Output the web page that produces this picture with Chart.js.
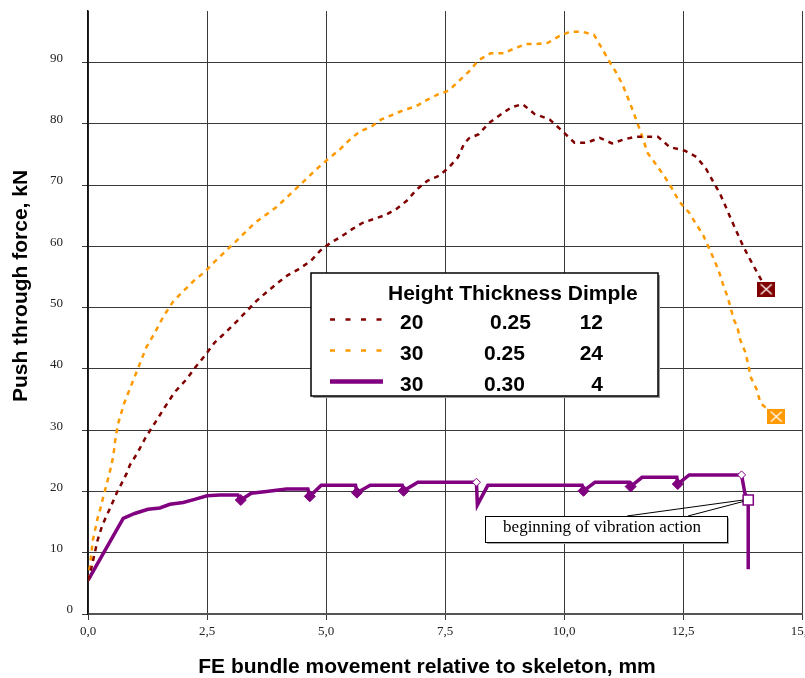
<!DOCTYPE html>
<html>
<head>
<meta charset="utf-8">
<title>Push through force</title>
<script src="https://cdn.jsdelivr.net/npm/chart.js@4.4.1/dist/chart.umd.min.js"></script>
<style>
  html, body { margin: 0; padding: 0; background: #fff; }
  #wrap { width: 805px; height: 678px; position: relative; }
</style>
</head>
<body>
<div id="wrap"><canvas id="chart"></canvas></div>
<script>
// Height 20, thickness 0.25, dimple 12 (last point = end marker)
const redX = [0, 0.07, 0.14, 0.2, 0.3, 0.46, 0.6, 0.68, 0.81, 0.88, 1.04, 1.21, 1.44, 1.61, 1.82,
  2.07, 2.26, 2.47, 2.66, 2.91, 3.12, 3.33, 3.54, 3.75, 3.98, 4.2, 4.41, 4.68, 4.88, 5.08, 5.32,
  5.55, 5.76, 6.02, 6.25, 6.48, 6.69, 6.91, 7.13, 7.37, 7.56, 7.77, 7.9, 8.0, 8.21, 8.42, 8.65,
  8.9, 9.13, 9.38, 9.7, 9.98, 10.22, 10.47, 10.75, 11.01, 11.24, 11.5, 11.73, 11.97, 12.22,
  12.54, 12.78, 12.98, 13.13, 13.27, 13.38, 13.5, 13.62, 13.73, 13.87, 14.04, 14.25];
const redY = [5.5, 7.5, 9.9, 12, 14.5, 17.2, 19.7, 20.9, 22.9, 24.3, 26.3, 28.8, 31.6, 33.7, 36.2,
  38.3, 40.3, 42.3, 44.3, 46.1, 47.7, 49.4, 51.1, 52.5, 54.0, 55.3, 56.2, 57.6, 59.3, 60.5, 61.6,
  62.8, 63.8, 64.5, 65.1, 66.1, 67.4, 69.3, 70.7, 71.5, 72.7, 74.5, 76.7, 77.6, 78.3, 80.1, 81.4,
  82.7, 83.2, 81.6, 80.7, 78.7, 76.9, 76.9, 77.7, 76.8, 77.4, 77.9, 77.9, 77.9, 76.2,
  75.6, 74.6, 72.7, 70.6, 68.7, 66.8, 64.6, 62.5, 60.6, 58.4, 56.0, 53.0];

// Height 30, thickness 0.25, dimple 24 (last point = end marker)
const orangeX = [0, 0.04, 0.1, 0.16, 0.21, 0.26, 0.33, 0.4, 0.47, 0.53, 0.58, 0.63, 0.76, 1.02, 1.23,
  1.39, 1.58, 1.79, 2.03, 2.24, 2.45, 2.66, 3.08, 3.5, 3.96, 4.41, 4.83, 5.04, 5.29, 5.5, 5.72,
  5.95, 6.16, 6.41, 6.65, 6.88, 7.1, 7.35, 7.58, 7.78, 8.0, 8.21, 8.46, 8.73, 8.96, 9.2, 9.42,
  9.66, 9.9, 10.12, 10.39, 10.63, 10.79, 10.95, 11.1, 11.23, 11.4, 11.5, 11.59, 11.76, 11.93,
  12.12, 12.28, 12.42, 12.64, 12.76, 12.92, 13.04, 13.15, 13.25, 13.34, 13.43, 13.5, 13.57,
  13.64, 13.7, 13.8, 13.87, 13.92, 14.04, 14.13, 14.46];
const orangeY = [5.5, 7.8, 12, 14.1, 15.9, 17.2, 19.4, 21.4, 23.6, 25.7, 28.8, 31, 34.4, 39.5, 43.6,
  45.7, 48.5, 51, 52.9, 54.5, 55.8, 57.5, 60.6, 63.8, 66.4, 69.7, 72.8, 74.2, 75.8, 77.4, 78.8,
  79.5, 80.7, 81.5, 82.3, 82.8, 83.8, 84.8, 85.4, 86.9, 88.5, 90.4, 91.5, 91.5, 92.3, 93.0, 93.0,
  93.2, 94.3, 95.0, 95.0, 94.5, 92.4, 90.2, 88.3, 86.4, 83.1, 81.0, 79.1, 75.2, 73.4,
  71.3, 69.3, 67.3, 65.4, 63.8, 61.9, 59.8, 57.9, 56.0, 53.8, 51.9, 50.0, 48.0,
  46.9, 44.8, 42.9, 40.8, 38.7, 36.8, 34.4, 32.2];

// Height 30, thickness 0.30, dimple 4
const purpleX = [0, 0.74, 0.98, 1.26, 1.51, 1.72, 2.0, 2.24, 2.5, 2.77, 3.15, 3.21, 3.43, 3.75, 4.17,
  4.62, 4.66, 4.9, 5.62, 5.65, 5.93, 6.6, 6.63, 6.93, 8.16, 8.18, 8.4, 10.38, 10.41, 10.65,
  11.37, 11.4, 11.64, 12.37, 12.39, 12.63, 13.73, 13.8, 13.87, 13.87];
const purpleY = [5.5, 15.6, 16.4, 17.1, 17.3, 17.9, 18.2, 18.7, 19.3, 19.4, 19.4, 18.6, 19.7, 20.0, 20.4,
  20.4, 19.2, 21.0, 21.0, 19.8, 21.0, 21.0, 20.1, 21.5, 21.5, 17.8, 21.0, 21.0, 20.1, 21.5,
  21.5, 20.8, 22.3, 22.3, 21.2, 22.7, 22.7, 19.7, 18.6, 7.3];
// dip = load drop, stop = hold point, vib = beginning of vibration action
const purpleMarks = ["", "", "", "", "", "", "", "", "", "", "", "dip", "", "", "",
  "", "dip", "", "", "dip", "", "", "dip", "", "stop", "", "", "", "dip", "",
  "", "dip", "", "", "dip", "", "stop", "", "vib", ""];

const xTicks = [0, 2.5, 5, 7.5, 10, 12.5, 15];
const yTicks = [0, 10, 20, 30, 40, 50, 60, 70, 80, 90];

const legendHeader = "Height Thickness Dimple";
const legendRows = [
  ["20", "0.25", "12"],
  ["30", "0.25", "24"],
  ["30", "0.30", "4"],
];
const calloutText = "beginning of vibration action";
const xTitle = "FE bundle movement relative to skeleton, mm";
const yTitle = "Push through force, kN";

const RED = "#800000";
const ORANGE = "#FF9900";
const PURPLE = "#800080";
const SANS = "'Liberation Sans', Arial, sans-serif";
const SERIF = "'Liberation Serif', 'Times New Roman', serif";

function toPoints(xs, ys) {
  return xs.map((x, i) => ({ x: x, y: ys[i] }));
}

// square end marker with a white cross
function crossBox(color) {
  const c = document.createElement("canvas");
  c.width = 18;
  c.height = 15;
  const g = c.getContext("2d");
  g.fillStyle = color;
  g.fillRect(0, 0, 18, 15);
  g.strokeStyle = "#fff";
  g.lineWidth = 1.3;
  g.beginPath();
  g.moveTo(3.5, 2.5);
  g.lineTo(14.5, 12.5);
  g.moveTo(14.5, 2.5);
  g.lineTo(3.5, 12.5);
  g.stroke();
  return c;
}
const redEnd = crossBox(RED);
const orangeEnd = crossBox(ORANGE);

// no extra room for edge labels, the plot box is fixed
function noPadding(scale) {
  scale.paddingLeft = 0;
  scale.paddingRight = 0;
  scale.paddingTop = 0;
  scale.paddingBottom = 0;
}

const overlay = {
  id: "overlay",
  afterDraw(chart) {
    const ctx = chart.ctx;
    const xs = chart.scales.x;
    const ys = chart.scales.y;
    ctx.save();

    // "0" label sits a bit closer to the axis
    ctx.fillStyle = "#222";
    ctx.font = "13px " + SERIF;
    ctx.textAlign = "right";
    ctx.textBaseline = "middle";
    ctx.fillText("0", 73, ys.getPixelForValue(0) - 4);

    // axis titles
    ctx.fillStyle = "#000";
    ctx.font = "bold 21px " + SANS;
    ctx.textAlign = "center";
    ctx.textBaseline = "alphabetic";
    ctx.fillText(xTitle, 427, 673);
    ctx.save();
    ctx.translate(27, 286);
    ctx.rotate(-Math.PI / 2);
    ctx.fillText(yTitle, 0, 0);
    ctx.restore();

    // legend table
    const lx = 311, ly = 273, lw = 347, lh = 123;
    ctx.fillStyle = "#999";
    ctx.fillRect(lx + 2, ly + 2, lw, lh);
    ctx.fillStyle = "#fff";
    ctx.fillRect(lx, ly, lw, lh);
    ctx.strokeStyle = "#000";
    ctx.lineWidth = 1.5;
    ctx.strokeRect(lx, ly, lw, lh);

    ctx.fillStyle = "#000";
    ctx.font = "bold 21px " + SANS;
    ctx.textAlign = "left";
    ctx.fillText(legendHeader, 388, 299.5);

    const rowBase = [329, 360, 391];
    const samples = [
      { color: RED, width: 2.5, dash: [5, 10.5] },
      { color: ORANGE, width: 2.5, dash: [5, 10.5] },
      { color: PURPLE, width: 4.5, dash: [] },
    ];
    legendRows.forEach((row, i) => {
      const s = samples[i];
      ctx.strokeStyle = s.color;
      ctx.lineWidth = s.width;
      ctx.setLineDash(s.dash);
      ctx.beginPath();
      ctx.moveTo(330, rowBase[i] - 9.5);
      ctx.lineTo(383, rowBase[i] - 9.5);
      ctx.stroke();
      ctx.setLineDash([]);
      ctx.textAlign = "left";
      ctx.fillText(row[0], 400, rowBase[i]);
      ctx.fillText(row[1], i === 0 ? 490 : 484, rowBase[i]);
      ctx.textAlign = "right";
      ctx.fillText(row[2], 603, rowBase[i]);
    });

    // callout for the vibration point
    const vi = purpleMarks.indexOf("vib");
    const px = xs.getPixelForValue(purpleX[vi]);
    const py = ys.getPixelForValue(purpleY[vi]);
    ctx.strokeStyle = "#000";
    ctx.lineWidth = 1;
    ctx.beginPath();
    ctx.moveTo(627, 516);
    ctx.lineTo(px - 5, py);
    ctx.moveTo(688, 516);
    ctx.lineTo(px - 5, py + 1.5);
    ctx.stroke();

    const bx = 485, by = 516, bw = 242, bh = 26;
    ctx.fillStyle = "#aaa";
    ctx.fillRect(bx + 2, by + 2, bw, bh);
    ctx.fillStyle = "#fff";
    ctx.fillRect(bx, by, bw, bh);
    ctx.strokeRect(bx + 0.5, by + 0.5, bw, bh);
    ctx.fillStyle = "#000";
    ctx.font = "17px " + SERIF;
    ctx.textAlign = "center";
    ctx.fillText(calloutText, 602, 532);

    ctx.restore();
  },
};

const lastRed = redX.length - 1;
const lastOrange = orangeX.length - 1;

new Chart(document.getElementById("chart"), {
  type: "scatter",
  data: {
    datasets: [
      {
        data: toPoints(redX, redY),
        showLine: true,
        borderColor: RED,
        borderWidth: 2.5,
        borderDash: [5, 5],
        pointRadius: (c) => (c.dataIndex === lastRed ? 9 : 0),
        pointStyle: (c) => (c.dataIndex === lastRed ? redEnd : "circle"),
        pointHoverRadius: 0,
      },
      {
        data: toPoints(orangeX, orangeY),
        showLine: true,
        borderColor: ORANGE,
        borderWidth: 2.5,
        borderDash: [5, 5],
        pointRadius: (c) => (c.dataIndex === lastOrange ? 9 : 0),
        pointStyle: (c) => (c.dataIndex === lastOrange ? orangeEnd : "circle"),
        pointHoverRadius: 0,
      },
      {
        data: toPoints(purpleX, purpleY),
        showLine: true,
        borderColor: PURPLE,
        borderWidth: 3.5,
        pointStyle: (c) => (purpleMarks[c.dataIndex] === "vib" ? "rect" : "rectRot"),
        pointRadius: (c) => {
          const m = purpleMarks[c.dataIndex];
          if (m === "dip") return 5.5;
          if (m === "stop") return 4;
          if (m === "vib") return 7.2;
          return 0;
        },
        pointBackgroundColor: (c) => (purpleMarks[c.dataIndex] === "dip" ? PURPLE : "#fff"),
        pointBorderColor: PURPLE,
        pointBorderWidth: (c) => (purpleMarks[c.dataIndex] === "vib" ? 1.5 : 1),
        pointHoverRadius: 0,
      },
    ],
  },
  options: {
    responsive: true,
    maintainAspectRatio: false,
    animation: false,
    events: [],
    layout: {
      autoPadding: false,
      padding: { top: 11, right: 3, left: 0, bottom: 0 },
    },
    plugins: {
      legend: { display: false },
      tooltip: { enabled: false },
    },
    scales: {
      x: {
        type: "linear",
        min: 0,
        max: 15,
        afterBuildTicks: (scale) => {
          scale.ticks = xTicks.map((v) => ({ value: v }));
        },
        afterFit: (scale) => {
          scale.height = 64;
          noPadding(scale);
        },
        ticks: {
          callback: (v) => v.toFixed(1).replace(".", ","),
          font: { family: SERIF, size: 13 },
          color: "#222",
          padding: 4,
          maxRotation: 0,
        },
        grid: { color: "#3a3a3a", lineWidth: 1, tickLength: 6 },
        border: { color: "#555", width: 2 },
      },
      y: {
        min: 0,
        max: 98.4,
        afterBuildTicks: (scale) => {
          scale.ticks = yTicks.map((v) => ({ value: v }));
        },
        afterFit: (scale) => {
          scale.width = 88;
          noPadding(scale);
        },
        ticks: {
          callback: (v) => (v === 0 ? "" : String(v)),
          font: { family: SERIF, size: 13 },
          color: "#222",
          padding: 19,
          labelOffset: -4,
        },
        grid: { color: "#3a3a3a", lineWidth: 1, tickLength: 6 },
        border: { color: "#111", width: 1.5 },
      },
    },
  },
  plugins: [overlay],
});
</script>
</body>
</html>
